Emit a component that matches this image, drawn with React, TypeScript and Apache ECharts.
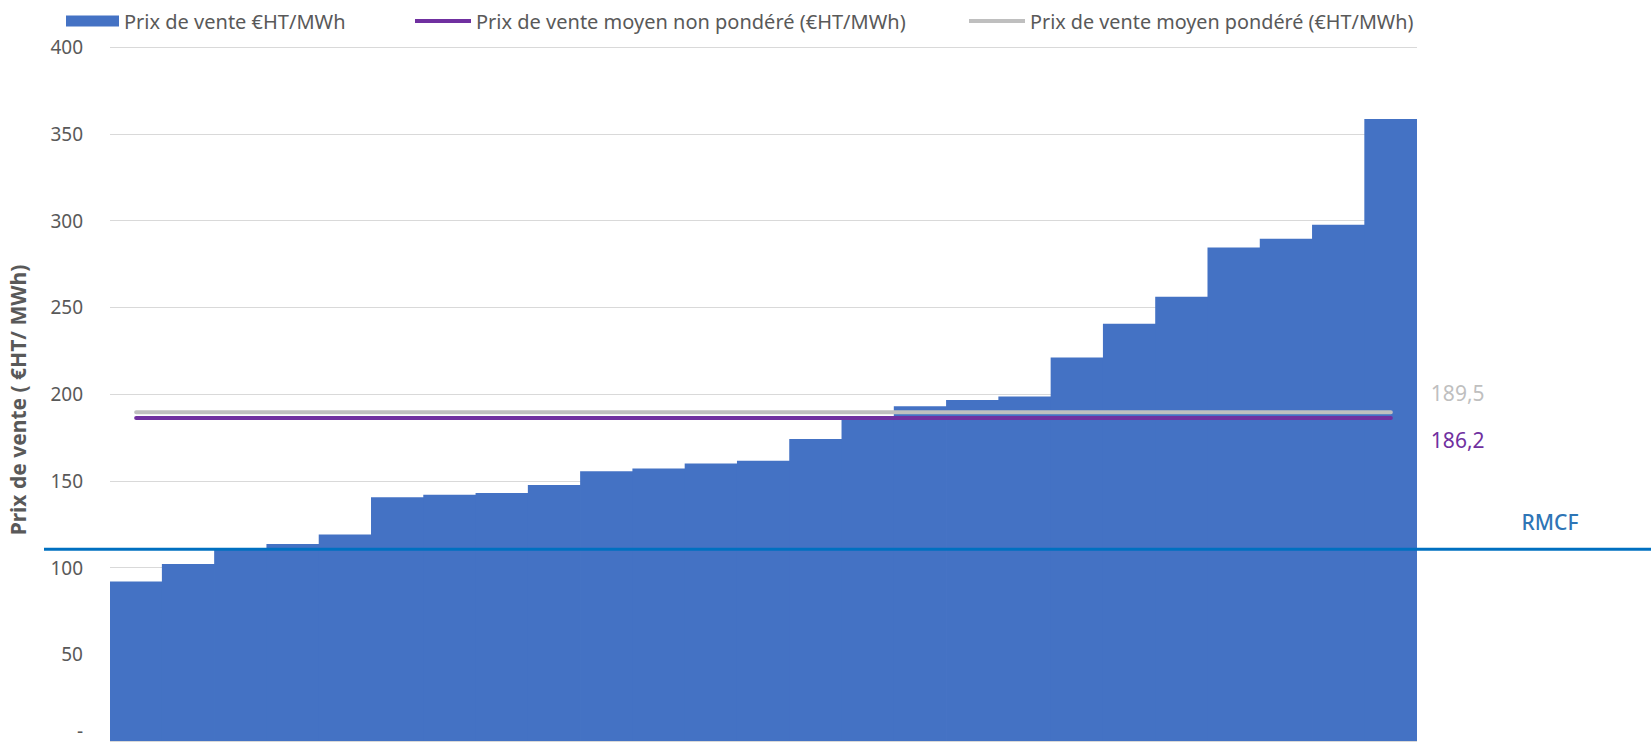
import React, { useEffect, useRef } from "react";
import * as echarts from "echarts";

const categories = ["1", "2", "3", "4", "5", "6", "7", "8", "9", "10", "11", "12", "13", "14", "15", "16", "17", "18", "19", "20", "21", "22", "23", "24", "25"];
const prices = [92, 102, 111, 113.5, 119, 140.5, 142, 143, 147.5, 155.5, 157, 160, 161.5, 174, 185, 193, 196.5, 198.5, 221, 240.5, 256, 284.5, 289.5, 297.5, 358.5];
const meanUnweighted = 186.2;
const meanWeighted = 189.5;
const rmcf = 110.5;
const seriesNames = [
  "Prix de vente €HT/MWh",
  "Prix de vente moyen non pondéré (€HT/MWh)",
  "Prix de vente moyen pondéré (€HT/MWh)",
];
const yAxisTitle = "Prix de vente ( €HT/ MWh)";
const rmcfLabel = "RMCF";

const FONT = "Noto Sans";
const TEXT = "#595959";

export default function App() {
  const ref = useRef<HTMLDivElement>(null);
  useEffect(() => {
    const chart = echarts.init(ref.current!, null, { renderer: "svg" });
    const fmt = (v: number) => v.toFixed(1).replace(".", ",");
    const legendText = { color: TEXT, fontSize: 20, fontFamily: FONT };
    chart.setOption({
      animation: false,
      textStyle: { fontFamily: FONT },
      legend: [
        {
          data: [seriesNames[0]],
          left: 61,
          top: 6,
          icon: "rect",
          itemWidth: 53,
          itemHeight: 11,
          textStyle: legendText,
        },
        {
          data: [seriesNames[1]],
          left: 410,
          top: 6,
          icon: "rect",
          itemWidth: 56,
          itemHeight: 4,
          textStyle: legendText,
        },
        {
          data: [seriesNames[2]],
          left: 964,
          top: 6,
          icon: "rect",
          itemWidth: 56,
          itemHeight: 4,
          textStyle: { ...legendText, fontSize: 19.8 },
        },
      ],
      grid: { left: 110, right: 234, top: 47, bottom: 4, containLabel: false, outerBoundsMode: "none" },
      xAxis: {
        type: "category",
        data: categories,
        boundaryGap: true,
        axisLine: { show: false },
        axisTick: { show: false },
        axisLabel: { show: false },
        splitLine: { show: false },
        splitArea: { show: false },
      },
      yAxis: {
        type: "value",
        min: 0,
        max: 400,
        interval: 50,
        name: yAxisTitle,
        nameLocation: "middle",
        nameGap: 82,
        nameRotate: 90,
        nameTextStyle: { color: TEXT, fontSize: 21, fontWeight: "bold", fontFamily: FONT, padding: [0, 12, 0, 0] },
        axisLine: { show: false },
        axisTick: { show: false },
        axisLabel: {
          color: TEXT,
          fontSize: 19,
          fontFamily: FONT,
          margin: 27,
          formatter: (v: number) => (v === 0 ? "{z|-}" : String(v)),
          rich: { z: { color: TEXT, fontSize: 19, fontFamily: FONT, lineHeight: 19, padding: [0, 0, 20, 0] } },
        },
        splitLine: { lineStyle: { color: "#d9d9d9", width: 1 } },
      },
      series: [
        {
          name: seriesNames[0],
          type: "bar",
          data: prices,
          barWidth: "101.5%",
          itemStyle: { color: "#4472c4" },
        },
        {
          name: seriesNames[2],
          type: "line",
          data: categories.map(() => meanWeighted),
          symbol: "none",
          color: "#bfbfbf",
          itemStyle: { color: "#bfbfbf" },
          lineStyle: { color: "#bfbfbf", width: 4, cap: "round" },
          z: 3,
          endLabel: {
            show: true,
            formatter: () => fmt(meanWeighted),
            color: "#bfbfbf",
            fontSize: 21,
            fontFamily: FONT,
            distance: 40,
            offset: [0, -19],
          },
        },
        {
          name: seriesNames[1],
          type: "line",
          data: categories.map(() => meanUnweighted),
          symbol: "none",
          color: "#7030a0",
          itemStyle: { color: "#7030a0" },
          lineStyle: { color: "#7030a0", width: 4, cap: "round" },
          z: 4,
          endLabel: {
            show: true,
            formatter: () => fmt(meanUnweighted),
            color: "#7030a0",
            fontSize: 21,
            fontFamily: FONT,
            distance: 40,
            offset: [0, 22],
          },
        },
      ],
    });
    const y = chart.convertToPixel({ yAxisIndex: 0 }, rmcf) as number;
    chart.setOption({
      graphic: [
        {
          type: "line",
          shape: { x1: 44, y1: y, x2: 1651, y2: y },
          style: { stroke: "#0070c0", lineWidth: 3 },
          z: 10,
        },
        {
          type: "text",
          x: 1550,
          y: y - 27,
          style: {
            text: rmcfLabel,
            fill: "#2e75b6",
            fontSize: 21,
            fontWeight: 500,
            fontFamily: FONT,
            align: "center",
            verticalAlign: "middle",
          },
          z: 10,
        },
      ],
    });
    return () => chart.dispose();
  }, []);
  return (
    <div
      ref={ref}
      style={{ position: "absolute", left: 0, top: 0, width: 1651, height: 745 }}
    />
  );
}
